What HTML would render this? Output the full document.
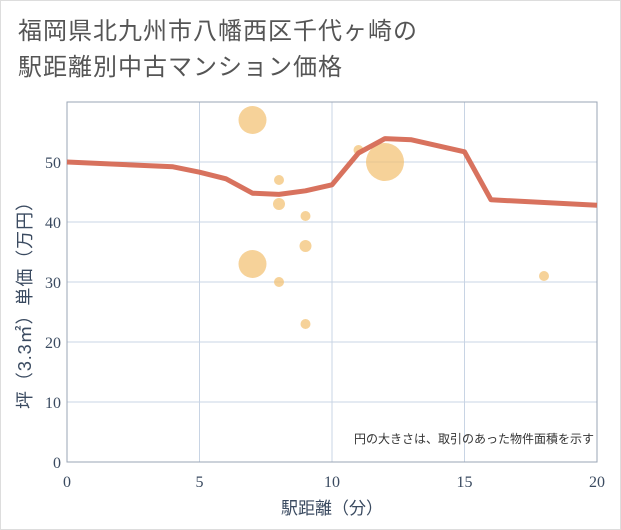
<!DOCTYPE html>
<html><head><meta charset="utf-8"><style>
body{margin:0;background:#fff;}
#wrap{position:relative;width:619px;height:528px;border:1px solid #ddd;background:#fff;font-family:"Liberation Sans","Noto Sans CJK JP",sans-serif;}
#title{position:absolute;left:17px;top:13px;font-size:24px;line-height:36px;color:#555;letter-spacing:1px;}
</style></head><body>
<div id="wrap">
<div id="title">福岡県北九州市八幡西区千代ヶ崎の<br>駅距離別中古マンション価格</div>
<svg id="chart" width="621" height="530" style="position:absolute;left:-1px;top:-1px"></svg>
</div>
<script>
const xTicks=[0,5,10,15,20];
const yTicks=[0,10,20,30,40,50];
const lineX=[0,4,5,6,7,8,9,10,11,12,13,15,16,20];
const lineY=[50,49.2,48.3,47.2,44.8,44.6,45.2,46.2,51.5,53.9,53.7,51.7,43.7,42.8];
const bubX=[7,8,8,9,9,7,8,9,11,12,18];
const bubY=[57,47,43,41,36,33,30,23,52,50,31];
const bubR=[14,5,6,5,6,14,5,5,5,19,5];
const NS="http://www.w3.org/2000/svg";
const svg=document.getElementById('chart');
const L=67,R=597,T=102,B=462;
const sx=v=>L+(v/20)*(R-L);
const sy=v=>B-(v/60)*(B-T);
function mk(tag,attrs,parent){const e=document.createElementNS(NS,tag);for(const k in attrs)e.setAttribute(k,attrs[k]);(parent||svg).appendChild(e);return e;}
const grid=mk('g',{});


xTicks.forEach(t=>{const l=mk('line',{x1:sx(t),x2:sx(t),y1:T,y2:B,stroke:'#c8d4e4','stroke-width':1},grid);


const tx=mk('text',{x:sx(t),y:B+25,'text-anchor':'middle','font-size':16,fill:'#3a4a60','font-family':'Liberation Serif, serif'});tx.textContent=t;

});
yTicks.forEach(t=>{const l=mk('line',{x1:L,x2:R,y1:sy(t),y2:sy(t),stroke:'#c8d4e4','stroke-width':1},grid);


const tx=mk('text',{x:L-6,y:sy(t)+6,'text-anchor':'end','font-size':16,fill:'#3a4a60','font-family':'Liberation Serif, serif'});tx.textContent=t;

});
const frame=mk('rect',{x:L,y:T,width:R-L,height:B-T,fill:'none',stroke:'#9aa4b4','stroke-width':1});


bubX.forEach((x,i)=>{const c=mk('circle',{cx:sx(x),cy:sy(bubY[i]),r:bubR[i],fill:'#f3c172','fill-opacity':0.72});

});
const p=mk('polyline',{points:lineX.map((x,i)=>sx(x)+','+sy(lineY[i])).join(' '),fill:'none',stroke:'#d66a55','stroke-width':5,'stroke-linejoin':'round','stroke-opacity':0.95});


const note=mk('text',{x:594,y:443,'text-anchor':'end','font-size':12,fill:'#333'});note.textContent='円の大きさは、取引のあった物件面積を示す';


const xt=mk('text',{x:sx(10),y:514,'text-anchor':'middle','font-size':17,fill:'#3a4a60'});xt.textContent='駅距離（分）';


const yt=mk('text',{x:0,y:0,'text-anchor':'middle','font-size':18,fill:'#3a4a60',textLength:216,lengthAdjust:'spacing',transform:'translate(31,301) rotate(-90)'});yt.textContent='坪（3.3㎡）単価（万円）';


</script>
</body></html>
